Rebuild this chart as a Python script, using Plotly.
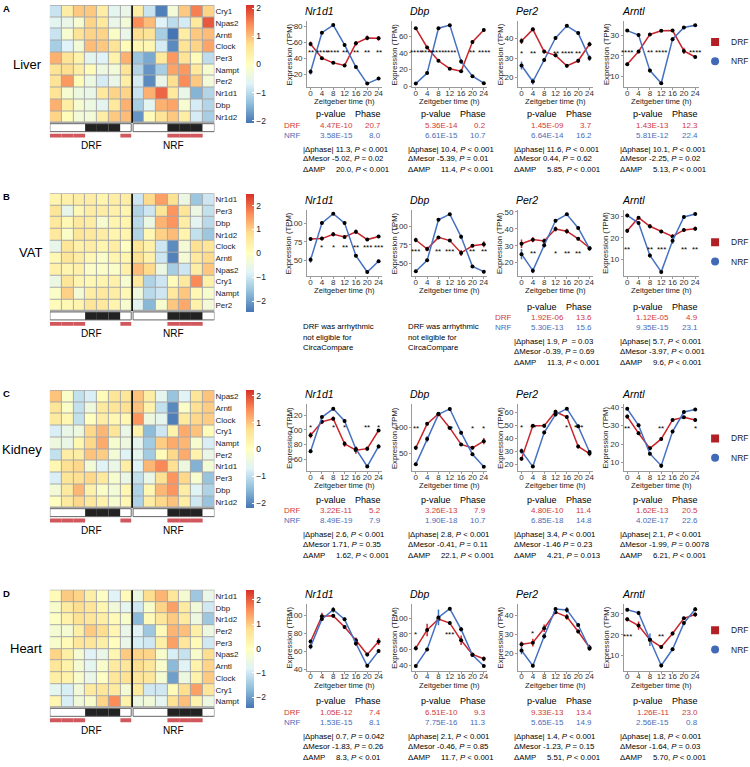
import plotly.graph_objects as go

W, H = 750, 767
FONT = "Liberation Sans, Arial, sans-serif"
RED = "#C9252C"
BLUE = "#4671C2"
RED_TXT = "#D03A3A"
BLUE_TXT = "#4A6DB8"
FEED_RED = "#D0575C"

zt = [0, 4, 8, 12, 16, 20, 24]
line_genes = ["Nr1d1", "Dbp", "Per2", "Arntl"]
tissues = ["Liver", "VAT", "Kidney", "Heart"]
letters = ["A", "B", "C", "D"]
groups = ["DRF", "NRF"]
group_symbols = ["square", "circle"]
group_key_colors = ["#B22026", "#4169B8"]

# ---------------- heatmap data (z-scores) ----------------
liver_hm_genes = ["Cry1", "Npas2", "Arntl", "Clock", "Per3", "Nampt", "Per2", "Nr1d1", "Dbp", "Nr1d2"]
liver_hm_z = [
    [-0.9, 0.4, 0.9, 0.9, 0.4, -0.6, -0.5, 0.4, -0.9, -2.0, -0.3, 0.9, 1.5, 0.8],
    [-0.6, -0.5, -0.2, 0.8, 0.5, -0.5, -0.3, 1.4, 1.0, -0.7, -1.0, -0.8, 0.5, 1.8],
    [-0.9, -0.2, 0.6, 0.8, 0.8, -0.1, -0.5, 0.7, 0.6, -1.2, -2.1, 0.4, 0.9, 1.0],
    [-1.2, -0.7, -0.3, 1.0, 0.9, 0.6, 0.1, 0.2, 0.2, -0.8, -1.9, 0.6, 0.8, 1.2],
    [1.1, 0.6, 0.3, -0.6, -0.7, 0.3, 1.1, -1.3, -1.6, 0.5, 1.3, 0.6, 0.1, -1.0],
    [0.6, 0.7, 0.4, 0.1, -0.4, -0.3, 0.6, -1.1, -1.8, -1.2, 1.2, 1.3, 0.5, -0.2],
    [0.6, 1.3, 0.1, -0.4, -0.8, -0.5, 0.4, -0.8, -1.9, -0.5, 0.7, 1.4, 0.9, -0.3],
    [0.6, -0.2, -0.4, -0.5, 0.5, 0.8, 0.8, -0.9, 1.1, 1.7, 0.5, -0.5, -1.5, -1.1],
    [1.1, 0.4, -0.2, -0.4, -0.6, 0.5, 1.1, -1.2, -0.6, 1.1, 1.2, -0.2, -0.8, -1.1],
    [0.8, 0.1, -0.3, -0.3, 0.4, 0.9, 1.0, -1.8, 0.1, 0.6, 0.9, 0.4, -0.8, -1.2],
]
vat_hm_genes = ["Nr1d1", "Per3", "Dbp", "Nr1d2", "Clock", "Arntl", "Npas2", "Cry1", "Nampt", "Per2"]
vat_hm_z = [
    [0.3, 0.4, 0.5, 0.5, 0.3, 0.5, 0.5, -1.0, 0.9, 1.5, 0.8, -0.5, -1.5, -1.0],
    [0.7, -0.6, 0.2, 0.5, 0.5, 0.4, 0.3, -1.3, -1.0, 0.7, 1.6, 0.7, -0.5, -1.1],
    [0.6, 0.2, 0.6, 0.5, -0.2, 0.3, 0.3, -1.2, -0.5, 1.3, 1.6, 0.5, -0.7, -1.2],
    [0.6, -0.1, 0.7, 0.6, 0.5, 0.3, 0.3, -1.3, 0.2, 1.0, 1.2, 0.3, -1.1, -1.5],
    [-0.6, 0.7, 0.4, 0.5, 0.3, 0.5, 0.0, 0.7, 0.4, -1.0, -2.2, -0.3, 0.8, 0.7],
    [0.2, 0.7, 0.5, 0.2, -0.1, 0.3, 0.3, 0.8, 0.4, -1.0, -2.3, -0.3, 0.6, 0.9],
    [0.4, 0.3, 0.4, -0.1, -0.1, -0.1, 0.4, 1.2, 0.9, -0.5, -1.4, -1.0, 0.5, 1.1],
    [-0.5, 0.7, 0.3, 0.2, 0.3, 0.4, -0.2, 0.6, -1.3, -1.0, 0.1, 0.6, 1.7, 0.4],
    [-0.1, 1.0, -0.3, 0.5, 0.6, 0.5, 0.2, -0.4, -1.2, -1.0, 0.6, 1.1, 0.2, -0.2],
    [0.1, 0.2, 0.3, 0.7, 0.6, 0.3, -0.2, -0.7, -1.7, -0.2, 1.1, 1.4, 0.4, -0.3],
]
kidney_hm_genes = ["Npas2", "Arntl", "Clock", "Cry1", "Nampt", "Per2", "Nr1d1", "Per3", "Dbp", "Nr1d2"]
kidney_hm_z = [
    [1.0, -0.1, -1.0, -0.8, 0.1, 0.6, 0.6, 1.0, 0.4, -0.6, -1.4, -0.7, 0.6, 1.0],
    [0.6, -0.1, -1.0, -0.4, 0.5, 0.6, 0.7, 1.0, 0.3, -1.0, -2.0, -0.1, 0.7, 0.9],
    [0.5, 0.2, -1.0, 0.0, 0.4, 0.2, 0.2, 1.4, -0.4, -0.6, -2.1, 0.5, 0.8, 0.9],
    [-0.8, -0.5, -0.4, 0.8, 1.1, 0.6, -0.5, 0.3, -1.5, -0.9, 0.3, 1.2, 1.0, 0.1],
    [-0.4, -0.5, 0.2, 0.8, 1.2, -0.2, -0.4, -0.6, -1.3, 0.9, 1.2, 1.1, -0.2, -0.8],
    [-1.0, 0.4, 0.4, 1.0, 0.9, -0.3, -0.7, -0.6, -1.3, 0.1, 0.8, 1.2, 0.3, -0.5],
    [0.2, 0.7, 0.8, -0.3, -0.7, -0.5, 0.4, -0.7, 1.1, 1.5, 0.7, -0.4, -1.6, -0.3],
    [-0.8, 0.6, 0.7, 0.8, 0.5, -0.2, -0.5, -1.0, -0.5, 0.7, 1.4, 0.8, -0.2, -1.4],
    [-0.3, 0.5, 1.1, 0.3, -0.1, -0.3, 0.2, -1.2, 0.2, 1.1, 1.4, 0.4, -0.7, -1.2],
    [0.0, 0.5, 0.8, 0.5, 0.3, -0.2, 0.2, -1.2, 0.4, 0.8, 1.0, 0.4, -0.9, -1.4],
]
heart_hm_genes = ["Nr1d1", "Dbp", "Nr1d2", "Per2", "Per3", "Npas2", "Arntl", "Clock", "Cry1", "Nampt"]
heart_hm_z = [
    [0.1, 1.0, 0.9, 0.4, -0.1, -0.8, 0.1, -0.5, 0.8, 1.2, 0.6, -0.3, -1.5, -0.6],
    [-0.2, 0.5, 0.8, 0.6, 0.2, -0.4, -0.7, -1.0, -0.2, 0.9, 1.4, 0.5, -0.4, -1.0],
    [-0.1, 0.3, 0.7, 0.6, 0.4, 0.1, -0.2, -1.7, 0.1, 0.6, 1.0, 0.5, -0.5, -1.5],
    [-0.3, -0.3, 0.4, 1.0, 0.8, 0.2, -0.6, -0.8, -1.5, 0.1, 1.2, 1.1, 0.4, -0.5],
    [-0.2, 0.1, 0.6, 0.6, 0.4, 0.0, -0.6, -0.9, -1.0, 0.4, 1.4, 0.6, 0.1, -1.0],
    [0.9, 0.4, -0.3, -0.8, -0.6, 0.2, 1.0, 0.9, 0.9, -0.2, -0.9, -1.1, -0.2, 0.8],
    [0.6, 0.3, -0.3, -0.7, -0.2, 0.5, 0.6, 0.8, 0.6, -0.2, -1.7, -0.8, 0.3, 0.9],
    [0.4, 0.3, -0.2, -0.6, -0.1, 0.6, 0.7, 0.6, 0.6, -0.3, -2.0, -0.5, 0.3, 1.0],
    [-0.7, -0.9, -0.4, 0.5, 0.6, 0.5, -0.3, 0.5, -1.0, -1.0, 0.1, 0.8, 1.4, 0.6],
    [0.2, -0.9, -0.4, -0.2, 0.9, 1.6, 0.3, -0.5, -0.4, -0.7, 0.7, 1.1, 0.3, -0.5],
]
hm_zrange = [(-2.1, 2.1), (-2.45, 2.5), (-2.2, 2.2), (-2.45, 2.4)]
hm_ticks = [-2, -1, 0, 1, 2]

light_phase = [1, 1, 1, 0, 0, 0, 1]      # 1 = light, 0 = dark (ZT0..ZT24)
drf_feeding = [1, 1, 1, 0, 0, 0, 1]
nrf_feeding = [0, 0, 0, 1, 1, 1, 0]

# ---------------- time-course data (TPM) ----------------
liver_drf = {"Nr1d1": [57.9, 40, 34.2, 31, 58.7, 65.4, 65],
             "Dbp": [69.8, 46.7, 30.6, 21, 18, 53.3, 67.8],
             "Per2": [38.7, 44.7, 33.3, 31.4, 26, 28.6, 37.1],
             "Arntl": [15.8, 22.1, 30.5, 32.3, 32.4, 22.4, 19.4]}
liver_nrf = {"Nr1d1": [23, 72, 81.5, 56.7, 29, 8.2, 14.5],
             "Dbp": [3, 15.7, 70, 73.7, 29.8, 12, 3.5],
             "Per2": [26.2, 18, 29, 40.3, 46.5, 42.8, 30],
             "Arntl": [32.4, 30.2, 12.7, 6.5, 28.2, 33.9, 35]}
liver_drf_err = {"Nr1d1": [3, 2, 1.5, 2, 3, 3, 3], "Dbp": [1.5, 2, 1, 1, 1.5, 2, 2],
                 "Per2": [1.5, 1, 1, 1, 0.8, 1, 1.2], "Arntl": [0.8, 0.8, 0.7, 0.6, 0.6, 1.5, 0.6]}
liver_nrf_err = {"Nr1d1": [3.5, 2, 1.5, 2, 2, 1, 1.5], "Dbp": [1, 1.5, 1.5, 1.5, 3, 1, 1],
                 "Per2": [2, 1.5, 1, 1, 1, 1, 1.5], "Arntl": [0.7, 1, 1, 0.6, 1, 0.8, 0.7]}
liver_stars = {"Nr1d1": ["**", "****", "****", "**", "**", "**", "**"],
               "Dbp": ["****", "****", "****", "****", "", "**", "****"],
               "Per2": ["*", "**", "", "**", "****", "**", ""],
               "Arntl": ["****", "", "**", "****", "", "", "****"]}
liver_star_level = {"Nr1d1": 50, "Dbp": 43.5, "Per2": 33.3, "Arntl": 22.4}

vat_drf = {"Nr1d1": [78.9, 79.3, 85, 81.4, 88.4, 78, 82.2],
           "Dbp": [81.7, 69.6, 85.2, 80.9, 64.3, 73.9, 76],
           "Per2": [31.2, 33.6, 32.8, 39.9, 38.6, 34.1, 28.7],
           "Arntl": [23.3, 29.4, 25.4, 23, 20.7, 23.7, 24.3]}
vat_nrf = {"Nr1d1": [51, 100, 112.4, 100, 56.6, 34.7, 49.2],
           "Dbp": [39.6, 54.3, 109, 116.5, 86, 46, 39],
           "Per2": [25, 15.2, 30.3, 44.8, 48.6, 40.5, 28.3],
           "Arntl": [30.4, 26.9, 11.9, 4.3, 18.7, 29.7, 31.1]}
vat_drf_err = {"Nr1d1": [1.5, 2.5, 3, 2, 3, 1.5, 2], "Dbp": [3, 3, 2, 2, 4, 2, 4],
               "Per2": [2.5, 1.5, 1.5, 1.5, 1.5, 1, 1], "Arntl": [1, 0.8, 1, 0.8, 1, 0.8, 1]}
vat_nrf_err = {"Nr1d1": [4, 2, 1.5, 2, 2, 1.5, 2], "Dbp": [2, 2, 2, 2, 3, 2, 2],
               "Per2": [3, 1.5, 1.5, 1, 1, 1, 1.5], "Arntl": [0.8, 0.8, 1, 0.6, 1.5, 0.8, 0.6]}
vat_stars = {"Nr1d1": ["", "*", "*", "**", "**", "***", "***"],
             "Dbp": ["***", "", "**", "***", "", "**", "**"],
             "Per2": ["", "**", "", "*", "**", "**", ""],
             "Arntl": ["**", "", "**", "***", "", "**", "**"]}
vat_star_level = {"Nr1d1": 70.7, "Dbp": 68.7, "Per2": 26.8, "Arntl": 15.7}

kidney_drf = {"Nr1d1": [92.6, 110.9, 115.2, 80.9, 72.2, 74.3, 99.1],
              "Dbp": [60.4, 106.7, 126.2, 98.8, 67, 60.4, 73.2],
              "Per2": [24, 49.7, 49.7, 60.5, 56.4, 33.6, 28.1],
              "Arntl": [34.9, 25.9, 17.7, 22.8, 33.1, 34.5, 33.1]}
kidney_nrf = {"Nr1d1": [70.9, 117.4, 128.7, 112.2, 73.9, 50, 77.4],
              "Dbp": [28.7, 77.4, 125, 135.4, 89.6, 48.2, 23.8],
              "Per2": [30, 18, 44.4, 58.3, 62.9, 49.2, 29.3],
              "Arntl": [39.1, 30.2, 14.8, 8.3, 26.8, 37.4, 38.8]}
kidney_drf_err = {"Nr1d1": [4, 3, 3, 4, 5, 3, 2], "Dbp": [4, 3, 3, 3, 3, 3, 6],
                  "Per2": [1.5, 1, 1.5, 1.5, 1.5, 1.5, 2], "Arntl": [1.2, 1, 1, 1, 0.8, 0.8, 1]}
kidney_nrf_err = {"Nr1d1": [3, 2, 2, 2, 3, 2, 3], "Dbp": [3, 6, 3, 3, 4, 3, 2],
                  "Per2": [2, 1, 1.5, 1.5, 1, 1.5, 1.5], "Arntl": [0.8, 1, 1, 1.2, 1, 1, 0.8]}
kidney_stars = {"Nr1d1": ["*", "", "*", "*", "", "**", "*"],
                "Dbp": ["**", "", "", "**", "", "*", "*"],
                "Per2": ["*", "**", "*", "", "*", "***", ""],
                "Arntl": ["**", "", "", "**", "", "", "*"]}
kidney_star_level = {"Nr1d1": 106.5, "Dbp": 101.8, "Per2": 49.7, "Arntl": 29.7}

heart_drf = {"Nr1d1": [70.7, 98.9, 99.3, 86.8, 72.1, 56.1, 70.7],
             "Dbp": [61.6, 84.8, 98.8, 93.6, 71.6, 53.6, 48],
             "Per2": [24.7, 25.6, 33.2, 41.7, 39.2, 31.5, 23],
             "Arntl": [27.4, 24.4, 17.6, 14.1, 20.6, 27.9, 29.7]}
heart_nrf = {"Nr1d1": [65, 95.7, 106.1, 95.4, 68.6, 43.6, 60],
             "Dbp": [38.8, 60, 100.8, 112, 85.6, 52.8, 38.8],
             "Per2": [21.4, 13.4, 29, 43.4, 42.9, 34.9, 22.5],
             "Arntl": [32, 30.5, 17.6, 5.2, 13, 25.6, 32.3]}
heart_drf_err = {"Nr1d1": [2, 4, 2, 2, 3, 2, 4], "Dbp": [3, 8, 3, 2, 6, 2, 3],
                 "Per2": [1.5, 2, 2, 1, 1.5, 1, 1.5], "Arntl": [1, 2, 1, 1, 1, 0.8, 1]}
heart_nrf_err = {"Nr1d1": [3, 2, 3, 2, 3, 2, 2], "Dbp": [1.5, 2, 10, 2, 3, 2, 2],
                 "Per2": [2, 1, 1.5, 1, 1.5, 1, 1], "Arntl": [0.8, 1, 3, 1, 1, 1, 1]}
heart_stars = {"Nr1d1": ["", "", "", "", "", "", ""],
               "Dbp": ["*", "", "", "***", "", "", ""],
               "Per2": ["", "*", "", "", "", "", ""],
               "Arntl": ["***", "", "", "**", "", "", ""]}
heart_star_level = {"Nr1d1": 80, "Dbp": 81.6, "Per2": 31.5, "Arntl": 20.3}

y_dticks = [[20, 20, 10, 10], [25, 25, 10, 10], [20, 50, 10, 10], [20, 20, 10, 10]]

# ---------------- CircaCompare statistics ----------------
liver_p_drf = ["4.47E-10", "5.36E-14", "1.45E-09", "1.43E-13"]
liver_p_nrf = ["3.58E-15", "6.61E-15", "6.64E-14", "5.81E-12"]
liver_ph_drf = ["20.7", "0.2", "3.7", "12.3"]
liver_ph_nrf = ["8.0", "10.7", "16.2", "22.4"]
liver_dphase = ["11.3, P < 0.001", "10.4, P < 0.001", "11.6, P < 0.001", "10.1, P < 0.001"]
liver_dmesor = ["-5.02, P = 0.02", "-5.39, P = 0.01", "0.44, P = 0.62", "-2.25, P = 0.02"]
liver_damp = ["20.0, P < 0.001", "11.4, P < 0.001", "5.85, P < 0.001", "5.13, P < 0.001"]

vat_p_drf = [None, None, "1.92E-06", "1.12E-05"]
vat_p_nrf = [None, None, "5.30E-13", "9.35E-15"]
vat_ph_drf = [None, None, "13.6", "4.9"]
vat_ph_nrf = [None, None, "15.6", "23.1"]
vat_dphase = [None, None, "1.9, P  = 0.03", "5.7, P < 0.001"]
vat_dmesor = [None, None, "-0.39, P = 0.69", "-3.97, P < 0.001"]
vat_damp = [None, None, "11.3, P < 0.001", "9.6, P < 0.001"]

kidney_p_drf = ["3.22E-11", "3.26E-13", "4.80E-10", "1.62E-13"]
kidney_p_nrf = ["8.49E-19", "1.90E-18", "6.85E-18", "4.02E-17"]
kidney_ph_drf = ["5.2", "7.9", "11.4", "20.5"]
kidney_ph_nrf = ["7.9", "10.7", "14.8", "22.6"]
kidney_dphase = ["2.6, P < 0.001", "2.8, P < 0.001", "3.4, P < 0.001", "2.1, P < 0.001"]
kidney_dmesor = ["1.71, P = 0.35", "-0.41, P = 0.11", "-1.46 P = 0.23", "-1.99, P = 0.0078"]
kidney_damp = ["1.62, P < 0.001", "22.1, P < 0.001", "4.21, P = 0.013", "6.21, P < 0.001"]

heart_p_drf = ["1.05E-12", "6.51E-10", "9.33E-13", "1.26E-11"]
heart_p_nrf = ["1.53E-15", "7.75E-16", "5.65E-15", "2.56E-15"]
heart_ph_drf = ["7.4", "9.3", "13.4", "23.0"]
heart_ph_nrf = ["8.1", "11.3", "14.9", "0.8"]
heart_dphase = ["0.7, P = 0.042", "2.1, P < 0.001", "1.4, P < 0.001", "1.8, P < 0.001"]
heart_dmesor = ["-1.83, P = 0.26", "-0.46, P = 0.85", "-1.23, P = 0.15", "-1.64, P = 0.03"]
heart_damp = ["8.3, P < 0.01", "11.7, P < 0.001", "5.51, P < 0.001", "5.70, P < 0.001"]

arrhythmic_note = ["DRF was arrhythmic", "not eligible for", "CircaCompare"]

hm_genes_all = [liver_hm_genes, vat_hm_genes, kidney_hm_genes, heart_hm_genes]
hm_z_all = [liver_hm_z, vat_hm_z, kidney_hm_z, heart_hm_z]
drf_all = [liver_drf, vat_drf, kidney_drf, heart_drf]
nrf_all = [liver_nrf, vat_nrf, kidney_nrf, heart_nrf]
drf_err_all = [liver_drf_err, vat_drf_err, kidney_drf_err, heart_drf_err]
nrf_err_all = [liver_nrf_err, vat_nrf_err, kidney_nrf_err, heart_nrf_err]
stars_all = [liver_stars, vat_stars, kidney_stars, heart_stars]
star_lvl_all = [liver_star_level, vat_star_level, kidney_star_level, heart_star_level]
p_drf_all = [liver_p_drf, vat_p_drf, kidney_p_drf, heart_p_drf]
p_nrf_all = [liver_p_nrf, vat_p_nrf, kidney_p_nrf, heart_p_nrf]
ph_drf_all = [liver_ph_drf, vat_ph_drf, kidney_ph_drf, heart_ph_drf]
ph_nrf_all = [liver_ph_nrf, vat_ph_nrf, kidney_ph_nrf, heart_ph_nrf]
dphase_all = [liver_dphase, vat_dphase, kidney_dphase, heart_dphase]
dmesor_all = [liver_dmesor, vat_dmesor, kidney_dmesor, heart_dmesor]
damp_all = [liver_damp, vat_damp, kidney_damp, heart_damp]

# ---------------- layout geometry (pixels) ----------------
HM_X0, HM_X1 = 50, 215
HM_H = 118
hm_top = [3.5, 193, 391, 592]
CB_X = 247
line_top = [19, 209, 405, 606]
LINE_H = 67
col_L = [308, 413.5, 519.5, 625.5]
COL_W = 75
table_top = [113, 307, 501, 704]
key_center = [50, 251.5, 449, 642]
KEY_STEP = 19.5
KEY_X = 717
KEY_TEXT_X = 732

def fx(px):
    return px / W

def fy(py):
    return 1 - py / H

colorscale = [[0.0, "#4575B4"], [1/6, "#91BFDB"], [2/6, "#E0F3F8"], [0.5, "#FFFFBF"],
              [4/6, "#FEE090"], [5/6, "#FC8D59"], [1.0, "#D73027"]]

fig = go.Figure()
layout = {}
shapes = []
annotations = []

def ax_names(n):
    return ("xaxis" if n == 1 else f"xaxis{n}", "yaxis" if n == 1 else f"yaxis{n}",
            "x" if n == 1 else f"x{n}", "y" if n == 1 else f"y{n}")

def ann(text, x, y, size=8, xanchor="left", yanchor="middle", color="black", xref="paper", yref="paper", **kw):
    annotations.append(dict(text=text, x=x, y=y, xref=xref, yref=yref, showarrow=False,
                            xanchor=xanchor, yanchor=yanchor, borderpad=0,
                            font=dict(size=size, color=color, family=FONT), **kw))

def italic_p(s):
    return s.replace("P ", "<i>P</i> ")

NB = "\u00a0"
TBL = 8
DELTA = 7.8

for t in range(4):
    # ---------- heatmap ----------
    n = t * 5 + 1
    xa, ya, xr, yr = ax_names(n)
    top = hm_top[t]
    bot = top + HM_H
    genes = hm_genes_all[t]
    zmin, zmax = hm_zrange[t]
    fig.add_trace(go.Heatmap(
        z=hm_z_all[t], x=list(range(14)), y=genes, xaxis=xr, yaxis=yr,
        colorscale=colorscale, zmin=zmin, zmax=zmax, xgap=1, ygap=1,
        hoverinfo="skip",
        colorbar=dict(x=fx(CB_X), xanchor="left", y=fy(top), yanchor="top",
                      lenmode="pixels", len=HM_H, thickness=8, thicknessmode="pixels",
                      xpad=0, ypad=0, outlinewidth=0, tickvals=hm_ticks,
                      ticks="inside", ticklen=2, tickcolor="white",
                      tickfont=dict(size=8.5, family=FONT, color="#222"))))
    layout[xa] = dict(domain=[fx(HM_X0), fx(HM_X1)], range=[-0.5, 13.5], visible=False,
                      anchor=yr, fixedrange=True)
    layout[ya] = dict(domain=[fy(bot), fy(top)], autorange="reversed", type="category",
                      side="right", anchor=xr, showgrid=False, zeroline=False, showline=False,
                      ticks="", tickfont=dict(size=8, family=FONT, color="#222"))
    # grey cell borders
    shapes.append(dict(type="rect", xref=xr, yref="paper", x0=-0.55, x1=13.55,
                       y0=fy(bot + 0.5), y1=fy(top - 0.5), fillcolor="#A8A8A8",
                       line=dict(width=0), layer="below"))
    # black divider
    shapes.append(dict(type="line", xref=xr, yref="paper", x0=6.5, x1=6.5,
                       y0=fy(bot), y1=fy(top), line=dict(color="black", width=1.5)))
    # light/dark bar and feeding bars
    for g, (feed, off) in enumerate([(drf_feeding, 0), (nrf_feeding, 7)]):
        for i in range(7):
            x0 = off + i - 0.5 + (0.08 if (g == 1 and i == 0) else 0)
            x1 = off + i + 0.5 - (0.08 if (g == 0 and i == 6) else 0)
            shapes.append(dict(type="rect", xref=xr, yref="paper", x0=x0, x1=x1,
                               y0=fy(bot + 9), y1=fy(bot + 1),
                               fillcolor="white" if light_phase[i] else "#222222",
                               line=dict(width=0)))
            if feed[i]:
                shapes.append(dict(type="rect", xref=xr, yref="paper", x0=x0, x1=x1,
                                   y0=fy(bot + 15), y1=fy(bot + 11),
                                   fillcolor=FEED_RED, line=dict(width=0)))
        gx0 = off - 0.5 + (0.08 if g == 1 else 0)
        gx1 = off + 6.5 - (0.08 if g == 0 else 0)
        shapes.append(dict(type="rect", xref=xr, yref="paper", x0=gx0, x1=gx1,
                           y0=fy(bot + 9), y1=fy(bot + 1), fillcolor="rgba(0,0,0,0)",
                           line=dict(color="#666666", width=1)))
    ann("DRF", 3, fy(bot + 23), size=10, xanchor="center", xref=xr)
    ann("NRF", 10, fy(bot + 23), size=10, xanchor="center", xref=xr)
    ann(tissues[t], fx(43), fy(top + HM_H / 2), size=13, xanchor="right")
    ann("<b>" + letters[t] + "</b>", fx(2), fy(top + 3), size=9.5)

    # ---------- time-course plots ----------
    for c, gene in enumerate(line_genes):
        n = t * 5 + 2 + c
        xa, ya, xr, yr = ax_names(n)
        L = col_L[c]
        ytop = line_top[t]
        ybot = ytop + LINE_H
        drf = drf_all[t][gene]
        nrf = nrf_all[t][gene]
        de = drf_err_all[t][gene]
        ne = nrf_err_all[t][gene]
        lo = min(min(v - e for v, e in zip(drf, de)), min(v - e for v, e in zip(nrf, ne)))
        hi = max(max(v + e for v, e in zip(drf, de)), max(v + e for v, e in zip(nrf, ne)))
        pad = 0.05 * (hi - lo)
        for vals, errs, col in [(drf, de, RED), (nrf, ne, BLUE)]:
            fig.add_trace(go.Scatter(
                x=zt, y=vals, xaxis=xr, yaxis=yr, mode="lines+markers",
                line=dict(color=col, width=1.5),
                marker=dict(color="black", size=4),
                error_y=dict(type="data", array=errs, color=col, thickness=1.5, width=0),
                showlegend=False, hoverinfo="skip"))
        layout[xa] = dict(domain=[fx(L), fx(L + COL_W)], range=[-1.2, 25.2], anchor=yr,
                          tickvals=zt, tickangle=0, showline=True, linecolor="#9A9A9A", linewidth=1,
                          ticks="outside", ticklen=2, tickcolor="#9A9A9A", showgrid=False,
                          ticklabelstandoff=-4,
                          zeroline=False, tickfont=dict(size=8, family=FONT, color="#333"))
        layout[ya] = dict(domain=[fy(ybot), fy(ytop)], range=[lo - pad, hi + pad], anchor=xr,
                          dtick=y_dticks[t][c], showline=True, linecolor="#9A9A9A", linewidth=1,
                          ticks="outside", ticklen=2, tickcolor="#9A9A9A", showgrid=False,
                          zeroline=False, tickfont=dict(size=8, family=FONT, color="#333"))
        ann("Zeitgeber time (h)", fx(L + COL_W / 2), fy(ybot + 14.5), size=7.7,
            xanchor="center", color="#222")
        ann("Expression (TPM)", fx(L - 18), fy(ytop + LINE_H / 2), size=7.7,
            xanchor="center", color="#222", textangle=-90)
        ann("<i>" + gene + "</i>", fx(L - 3), fy(ytop - 10), size=10.5)
        for i, s in enumerate(stars_all[t][gene]):
            if s:
                ann(s, zt[i], star_lvl_all[t][gene], size=8, xanchor="center",
                    xref=xr, yref=yr, yshift=-2)
        # statistics table
        hy = table_top[t]
        if p_drf_all[t][c] is None:
            for k, line in enumerate(arrhythmic_note):
                ann(line, fx(L - 5), fy(hy + 20 + k * 10.5), size=DELTA)
            continue
        ann("p-value", fx(L + 24), fy(hy), size=9, xanchor="center")
        ann("Phase", fx(L + 75), fy(hy), size=9, xanchor="right")
        ann(p_drf_all[t][c], fx(L + 29), fy(hy + 11), size=TBL, xanchor="center", color=RED_TXT)
        ann(ph_drf_all[t][c], fx(L + 75), fy(hy + 11), size=TBL, xanchor="right", color=RED_TXT)
        ann(p_nrf_all[t][c], fx(L + 29), fy(hy + 21), size=TBL, xanchor="center", color=BLUE_TXT)
        ann(ph_nrf_all[t][c], fx(L + 75), fy(hy + 21), size=TBL, xanchor="right", color=BLUE_TXT)
        ann("|\u0394phase|" + NB + italic_p(dphase_all[t][c]), fx(L - 5), fy(hy + 35), size=DELTA)
        ann("\u0394Mesor" + NB + italic_p(dmesor_all[t][c]), fx(L - 5), fy(hy + 45), size=DELTA)
        ann("\u0394AMP" + NB * 5 + italic_p(damp_all[t][c]), fx(L - 5), fy(hy + 56), size=DELTA)

    # DRF / NRF row labels
    first = next(c for c in range(4) if p_drf_all[t][c] is not None)
    ann("DRF", fx(col_L[first] - 24), fy(table_top[t] + 11), size=TBL, color=RED_TXT)
    ann("NRF", fx(col_L[first] - 24), fy(table_top[t] + 21), size=TBL, color=BLUE_TXT)

    # group key for this panel (drawn on its own small axis)
    n = 21 + t
    xa, ya, xr, yr = ax_names(n)
    kc = key_center[t]
    layout[xa] = dict(domain=[fx(KEY_X - 6), fx(KEY_X + 6)], range=[-1, 1], visible=False,
                      anchor=yr, fixedrange=True)
    layout[ya] = dict(domain=[fy(kc + KEY_STEP), fy(kc - KEY_STEP)], type="category",
                      categoryorder="array", categoryarray=groups[::-1], range=[-0.5, 1.5],
                      visible=False, anchor=xr, fixedrange=True)
    for g, name in enumerate(groups):
        fig.add_trace(go.Scatter(x=[0], y=[name], xaxis=xr, yaxis=yr, mode="markers",
                                 marker=dict(symbol=group_symbols[g], color=group_key_colors[g], size=8),
                                 showlegend=False, hoverinfo="skip"))
        ann(name, fx(KEY_TEXT_X), name, size=8.5, xanchor="left", yref=yr, color="#222")

fig.update_layout(width=W, height=H, autosize=False, margin=dict(l=0, r=0, t=0, b=0),
                  paper_bgcolor="white", plot_bgcolor="rgba(0,0,0,0)", showlegend=False,
                  font=dict(family=FONT), shapes=shapes, annotations=annotations, **layout)
fig.write_html("out.html",
               config={"displayModeBar": False, "responsive": False},
               post_script="document.documentElement.style.overflow='hidden';"
                           "document.body.style.margin='0';document.body.style.overflow='hidden';")
